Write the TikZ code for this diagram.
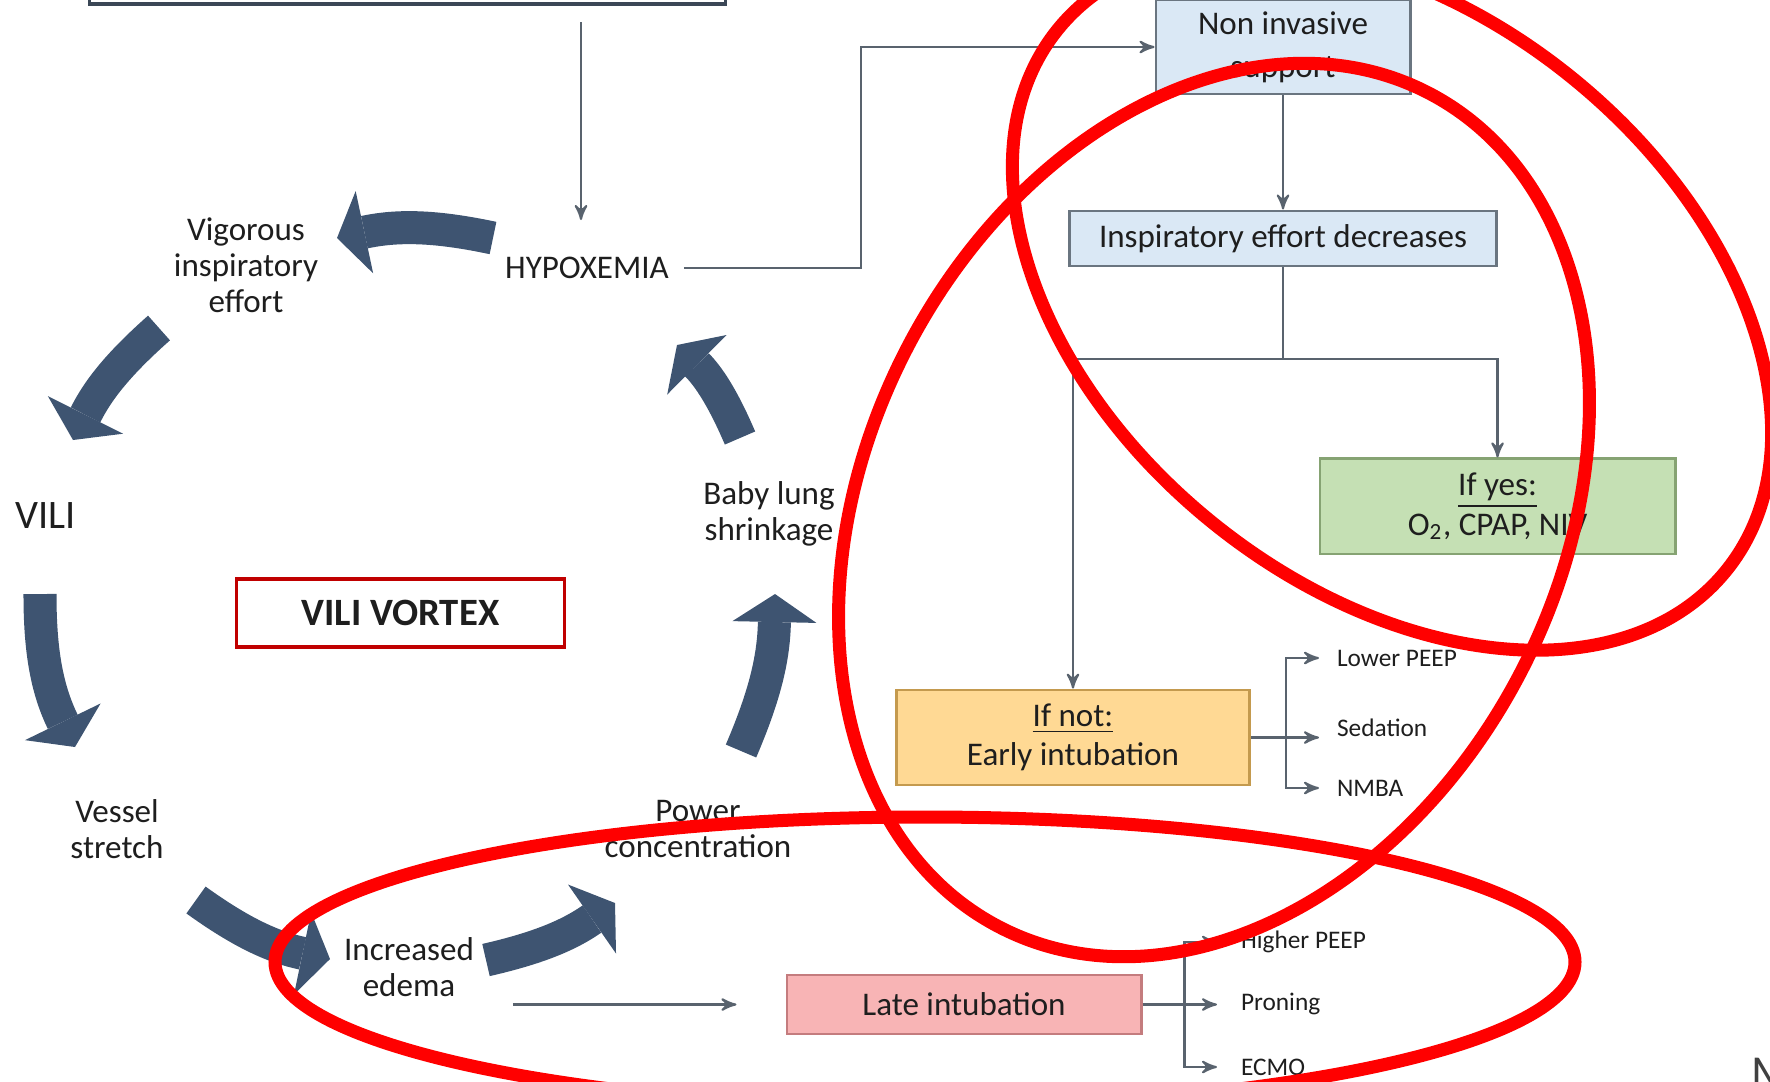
\documentclass[tikz,border=0pt]{standalone}
\usepackage{fontspec}
\setmainfont{Carlito}
\usetikzlibrary{arrows,arrows.meta,positioning,calc}

\definecolor{swirlblue}{HTML}{3E5471}
\definecolor{wiregray}{HTML}{59636E}
\definecolor{topline}{HTML}{3B4756}
\definecolor{nivfill}{HTML}{DAE8F5}
\definecolor{nivdraw}{HTML}{6A7580}
\definecolor{yesfill}{HTML}{C5E0B4}
\definecolor{yesdraw}{HTML}{86A373}
\definecolor{notfill}{HTML}{FFD994}
\definecolor{notdraw}{HTML}{C49A4E}
\definecolor{latefill}{HTML}{F8B4B5}
\definecolor{latedraw}{HTML}{C47C7E}
\definecolor{vortexred}{HTML}{C00000}
\definecolor{ink}{HTML}{1E1E1E}

\newcommand{\cyclefont}{\fontsize{9.4}{10.3}\selectfont}
\newcommand{\flowfont}{\fontsize{9.4}{12.2}\selectfont}
\newcommand{\optfont}{\fontsize{7.2}{8.5}\selectfont}

\begin{document}
\begin{tikzpicture}[x=0.01cm, y=-0.01cm, >=stealth', semithick]
\tikzstyle{every node}=[text=ink, inner sep=0pt, align=center]
\tikzstyle{stage}=[font=\cyclefont]
\tikzstyle{flowbox}=[rectangle, draw, line width=0.8pt, font=\flowfont]
\tikzstyle{option}=[font=\optfont, anchor=west]
\tikzstyle{wire}=[draw=wiregray, line width=0.6pt]
\tikzstyle{swirl}=[draw=swirlblue, line width=0.33cm, -{Triangle[width=0.84cm, length=0.28cm, line width=0pt]}]
\tikzstyle{ring}=[draw=red, line width=0.13cm]

\useasboundingbox (0,0) rectangle (1770,1081);
\clip (0,0) rectangle (1770,1081);

% vortex
\node[draw=topline, line width=0.9pt, minimum width=6.35cm, minimum height=0.6cm] (top) at (407.5,-26) {};
\node[stage] (hyp) at (587,268) {HYPOXEMIA};
\node[stage] (vig) at (246,265) {Vigorous\\inspiratory\\effort};
\node[stage, font=\fontsize{11.5}{13}\selectfont] (vili) at (46,516) {VILI};
\node[stage] (vessel) at (117,829) {Vessel\\stretch};
\node[stage] (edema) at (409,967) {Increased\\edema};
\node[stage] (power) at (698,829) {Power\\concentration};
\node[stage] (baby) at (769,514) {Baby lung\\shrinkage};
\node[draw=vortexred, line width=0.9pt, minimum width=3.27cm, minimum height=0.68cm,
      font=\fontsize{11}{13}\selectfont\bfseries] (vortex) at (400.5,613) {VILI VORTEX};

\coordinate (s1) at (493,238); \coordinate (e1) at (337,238);
\coordinate (s2) at (159,328); \coordinate (e2) at (73,440);
\coordinate (s3) at (40,594);  \coordinate (e3) at (75,747);
\coordinate (s4) at (196,900); \coordinate (e4) at (330,959);
\coordinate (s5) at (486,960); \coordinate (e5) at (615,903);
\coordinate (s6) at (741,751); \coordinate (e6) at (775,594);
\coordinate (s7) at (740,438); \coordinate (e7) at (677,345);
\draw[swirl] (s1) to[bend right=12] (e1);
\draw[swirl] (s2) to[bend right=11] (e2);
\draw[swirl] (s3) to[bend right=13] (e3);
\draw[swirl] (s4) to[bend right=12] (e4);
\draw[swirl] (s5) to[bend right=11] (e5);
\draw[swirl] (s6) to[bend right=11] (e6);
\draw[swirl] (s7) to[bend right=11] (e7);

% flow chart
\node[flowbox, fill=nivfill, draw=nivdraw, minimum width=2.54cm, minimum height=0.94cm] (nis) at (1283,47) {Non invasive\\support};
\node[flowbox, fill=nivfill, draw=nivdraw, minimum width=4.26cm, minimum height=0.55cm] (ied) [below=1.14cm of nis] {Inspiratory effort decreases};
\node[flowbox, fill=yesfill, draw=yesdraw, minimum width=3.55cm, minimum height=0.95cm,
      font=\fontsize{9.4}{11.2}\selectfont] (yes) [below=1.9cm of ied.south east] {\underline{If yes:}\\O\textsubscript{2}, CPAP, NIV};
\node[flowbox, fill=notfill, draw=notdraw, minimum width=3.53cm, minimum height=0.95cm,
      font=\fontsize{9.4}{11.2}\selectfont] (not) [below=4.21cm of ied.south west, xshift=0.045cm] {\underline{If not:}\\Early intubation};
\node[flowbox, fill=latefill, draw=latedraw, minimum width=3.54cm, minimum height=0.59cm] (late) at (964,1004.5) {Late intubation};

\node[option] (lowpeep) at (1336,658) {Lower PEEP};
\node[option] (sedation) at (1336,728) {Sedation};
\node[option] (nmba) at (1336,788) {NMBA};
\node[option] (highpeep) at (1240,942) {Higher PEEP};
\node[option] (proning) at (1240,1004) {Proning};
\node[option] (ecmo) at (1240,1067) {ECMO};

\coordinate (drop) at (581,22);
\coordinate (hyptop) at (581,220);
\draw[wire,->] (drop) -- (hyptop);
\draw[wire,->,shorten <=0.14cm] (hyp.east) -- ++(191,0) |- (nis.west);
\draw[wire,->] (nis) -- (ied);
\coordinate (split) at (1283,359);
\draw[wire] (ied.south) -- (split);
\draw[wire,->] (split) -| (yes.north);
\draw[wire,->] (split) -| (not.north);

\coordinate (ebus) at ($(not.east)+(35,0)$);
\draw[wire,->,shorten >=0.17cm] (not.east) -- (not.east -| sedation.west);
\draw[wire,->,shorten >=0.17cm] (ebus) |- (lowpeep.west);
\draw[wire,->,shorten >=0.17cm] (ebus) |- (nmba.west);

\coordinate (lbus) at ($(late.east)+(42,0)$);
\draw[wire,->,shorten >=0.23cm] (late.east) -- (late.east -| proning.west);
\draw[wire,->,shorten >=0.23cm] (lbus) |- (highpeep.west);
\draw[wire,->,shorten >=0.23cm] (lbus) |- (ecmo.west);

\draw[wire,->,shorten <=0.38cm,shorten >=0.49cm] (edema.east |- late.west) -- (late.west);

\node[font=\fontsize{13}{15}\selectfont, text=black!75, anchor=north west] (mark) at (1750,1057) {M};

% red marks
\draw[ring, rotate around={-39:(1392,300)}] (1392,300) ellipse [x radius=430, y radius=286];
\draw[ring, rotate around={63:(1214,510)}] (1214,510) ellipse [x radius=469, y radius=347];
\draw[ring] (925,962) ellipse [x radius=650, y radius=145];
\end{tikzpicture}
\end{document}
